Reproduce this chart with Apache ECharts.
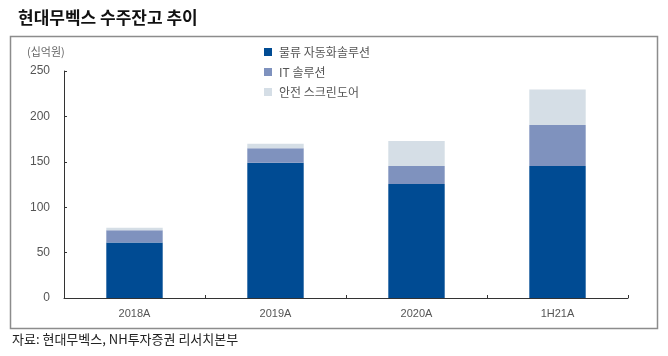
<!DOCTYPE html>
<html><head><meta charset="utf-8">
<script src="https://cdn.jsdelivr.net/npm/echarts@6/dist/echarts.min.js"></script>
<style>html,body{margin:0;padding:0;background:#fff}#c{width:668px;height:356px}</style>
</head><body><div id="c"></div>
<script>
const categories = ['2018A', '2019A', '2020A', '1H21A'];
const logistics = [61, 149, 125.5, 145.5];
const itSolution = [13.5, 16, 20, 45];
const screenDoor = [3, 5, 27.5, 39];
const seriesNames = ['물류 자동화솔루션', 'IT 솔루션', '안전 스크린도어'];
const yTicks = [0, 50, 100, 150, 200, 250];

const chart = echarts.init(document.getElementById('c'));
const font = 'Liberation Sans, Arial, sans-serif';
const colors = ['#004b93', '#7f92be', '#d5dee6'];
chart.setOption({
  animation: false,
  textStyle: { fontFamily: font },
  title: {
    text: '현대무벡스 수주잔고 추이', left: 13, top: 4,
    textStyle: { fontSize: 17, fontWeight: 'bold', color: '#111', fontFamily: 'Noto Sans CJK KR' }
  },
  graphic: [
    { type: 'rect', shape: { x: 10.5, y: 36.5, width: 647, height: 292 },
      style: { fill: 'none', stroke: '#8c8c8c', lineWidth: 1.5 }, silent: true, z: -1 },
    { type: 'text', left: 12, top: 333,
      style: { text: '자료: 현대무벡스, NH투자증권 리서치본부', fontSize: 13, fill: '#222', fontFamily: 'Noto Sans CJK KR' } },
    { type: 'text', left: 27, top: 46,
      style: { text: '(십억원)', fontSize: 11, fill: '#666', fontFamily: 'Noto Sans CJK KR' } }
  ],
  legend: {
    orient: 'vertical', left: 259, top: 41, itemGap: 8, itemWidth: 8, itemHeight: 8,
    icon: 'rect', data: seriesNames,
    textStyle: { fontSize: 12, color: '#555', fontFamily: 'Noto Sans CJK KR', padding: [0, 0, 0, 2] }
  },
  grid: { left: 64, right: 40, top: 71, bottom: 58 },
  xAxis: {
    type: 'category', data: categories,
    axisLine: { lineStyle: { color: '#333', width: 1 } },
    axisTick: { show: true, inside: true, length: 3, lineStyle: { color: '#333' } },
    axisLabel: { color: '#555', fontSize: 11, margin: 10 }
  },
  yAxis: {
    type: 'value', min: yTicks[0], max: yTicks[yTicks.length - 1], interval: 50,
    axisLine: { show: true, lineStyle: { color: '#333', width: 1 } },
    axisTick: { show: true, inside: true, length: 3, lineStyle: { color: '#333' } },
    splitLine: { show: false },
    axisLabel: { color: '#555', fontSize: 12, margin: 14 }
  },
  series: [
    { name: seriesNames[0], type: 'bar', stack: 't', barWidth: '40%', data: logistics, itemStyle: { color: colors[0] } },
    { name: seriesNames[1], type: 'bar', stack: 't', data: itSolution, itemStyle: { color: colors[1] } },
    { name: seriesNames[2], type: 'bar', stack: 't', data: screenDoor, itemStyle: { color: colors[2] } }
  ]
});
</script></body></html>
